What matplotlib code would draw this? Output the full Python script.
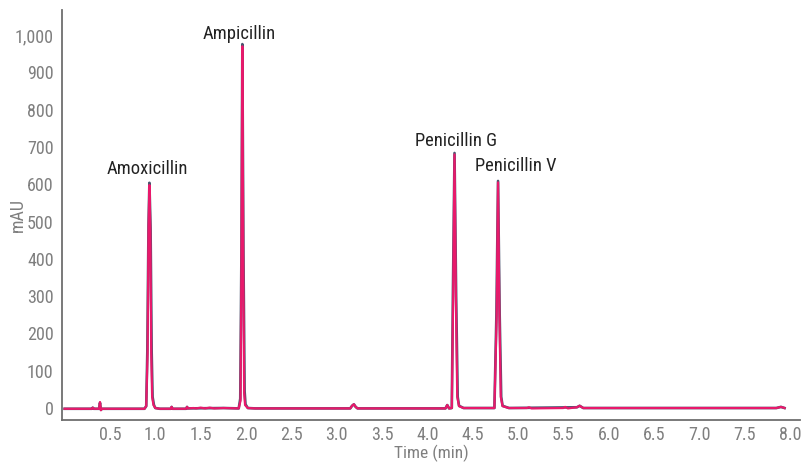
import matplotlib
matplotlib.use("Agg")
import matplotlib.pyplot as plt
from matplotlib import font_manager
from matplotlib.ticker import FuncFormatter

# trace (time in min, signal in mAU)
pink_t = [0.0, 0.30, 0.31, 0.32, 0.38, 0.39, 0.40, 0.41, 0.88, 0.90, 0.915, 0.925, 0.935, 0.945,
          0.955, 0.965, 0.98, 1.0, 1.05, 1.17, 1.18, 1.19, 1.34, 1.35, 1.36, 1.42, 1.45, 1.5, 1.55,
          1.6, 1.65, 1.75, 1.92, 1.94, 1.95, 1.96, 1.97, 1.98, 1.99, 2.02, 2.1, 2.6, 3.0, 3.15,
          3.17, 3.19, 3.21, 3.23, 3.5, 3.85, 4.20, 4.22, 4.24, 4.27, 4.285, 4.30, 4.315, 4.33,
          4.35, 4.40, 4.74, 4.765, 4.78, 4.795, 4.81, 4.83, 4.90, 5.10, 5.12, 5.15, 5.50, 5.52,
          5.55, 5.65, 5.68, 5.72, 6.5, 7.85, 7.90, 7.94]
pink_y = [-2, -2, 1, -2, -2, 16, -6, -2, -2, 5, 150, 480, 598, 480, 150, 30, 8, 0, -2, -2, 3, -2,
          -2, 3, -1, 0, -1, 1, -1, 1, -1, 0, -1, 20, 400, 970, 400, 40, 8, 0, -1, -1, -1, -1, 6, 10,
          3, -1, -1, -1, -1, 8, -1, 0, 300, 680, 300, 30, 5, 0, 0, 250, 605, 250, 30, 5, 0, 0, 2,
          -1, 0, 3, -1, 2, 6, 0, 0, 0, 3, 0]

dark_t = [0.0, 0.30, 0.31, 0.32, 0.38, 0.39, 0.40, 0.41, 0.88, 0.90, 0.912, 0.925, 0.935, 0.948,
          0.96, 0.97, 0.985, 1.0, 1.05, 1.17, 1.18, 1.19, 1.34, 1.35, 1.36, 1.75, 1.92, 1.937,
          1.95, 1.96, 1.972, 1.985, 1.995, 2.02, 2.1, 3.15, 3.17, 3.19, 3.21, 3.23, 4.20, 4.22,
          4.24, 4.27, 4.282, 4.30, 4.318, 4.335, 4.35, 4.40, 4.74, 4.762, 4.78, 4.798, 4.815,
          4.83, 4.90, 5.65, 5.68, 5.72, 7.85, 7.90, 7.94]
dark_y = [-2, -2, 1, -2, -2, 14, -5, -2, -2, 5, 150, 490, 604, 480, 150, 30, 8, 0, -2, -2, 3, -2,
          -2, 3, -1, 0, -1, 25, 420, 976, 420, 45, 10, 0, -1, -1, 6, 10, 3, -1, -1, 8, -1, 0, 300,
          684, 300, 30, 6, 0, 0, 250, 609, 250, 30, 6, 0, 2, 6, 0, 0, 3, 0]

peak_names = ["Amoxicillin", "Ampicillin", "Penicillin G", "Penicillin V"]
label_x = [0.91, 1.93, 4.32, 4.98]
label_y = [627, 989, 702, 635]

# look for a narrow face, else squeeze DejaVu
names = {f.name for f in font_manager.fontManager.ttflist}
narrow = [n for n in ["Liberation Sans Narrow", "DejaVu Sans Condensed", "Roboto Condensed",
                      "Open Sans Condensed"] if n in names]
plt.rcParams["font.family"] = narrow + ["DejaVu Sans"]
plt.rcParams["font.stretch"] = "condensed"

fig = plt.figure(figsize=(8.04, 4.62), dpi=100)
ax = fig.add_axes([0.077, 0.091, 0.918, 0.887])

ax.plot(dark_t, dark_y, color="#4b5670", lw=1.9)
ax.plot(pink_t, pink_y, color="#e8196b", lw=1.6)

for name, x, y in zip(peak_names, label_x, label_y):
    ax.text(x, y, name, ha="center", va="baseline", fontsize=13.3, color="#222222")

ax.set_xlim(-0.03, 8.11)
ax.set_ylim(-32, 1067)
ax.set_xticks([0.5, 1.0, 1.5, 2.0, 2.5, 3.0, 3.5, 4.0, 4.5, 5.0, 5.5, 6.0, 6.5, 7.0, 7.5, 8.0])
ax.set_yticks(range(0, 1001, 100))
ax.xaxis.set_major_formatter(FuncFormatter(lambda v, p: f"{v:.1f}"))
ax.yaxis.set_major_formatter(FuncFormatter(lambda v, p: f"{int(v):,}"))
ax.tick_params(length=0, labelsize=13, colors="#7f7f7f", pad=6)
ax.tick_params(axis="x", pad=4.5)
ax.set_xlabel("Time (min)", fontsize=12.5, color="#7f7f7f", va="top")
ax.set_ylabel("mAU", fontsize=13, color="#7f7f7f")
ax.xaxis.set_label_coords(0.5, -0.061)
ax.yaxis.set_label_coords(-0.047, 0.5)

for s in ["top", "right"]:
    ax.spines[s].set_visible(False)
for s in ["left", "bottom"]:
    ax.spines[s].set_color("#6e6e6e")
    ax.spines[s].set_linewidth(1.3)

fig.savefig("out.png", dpi=100)
